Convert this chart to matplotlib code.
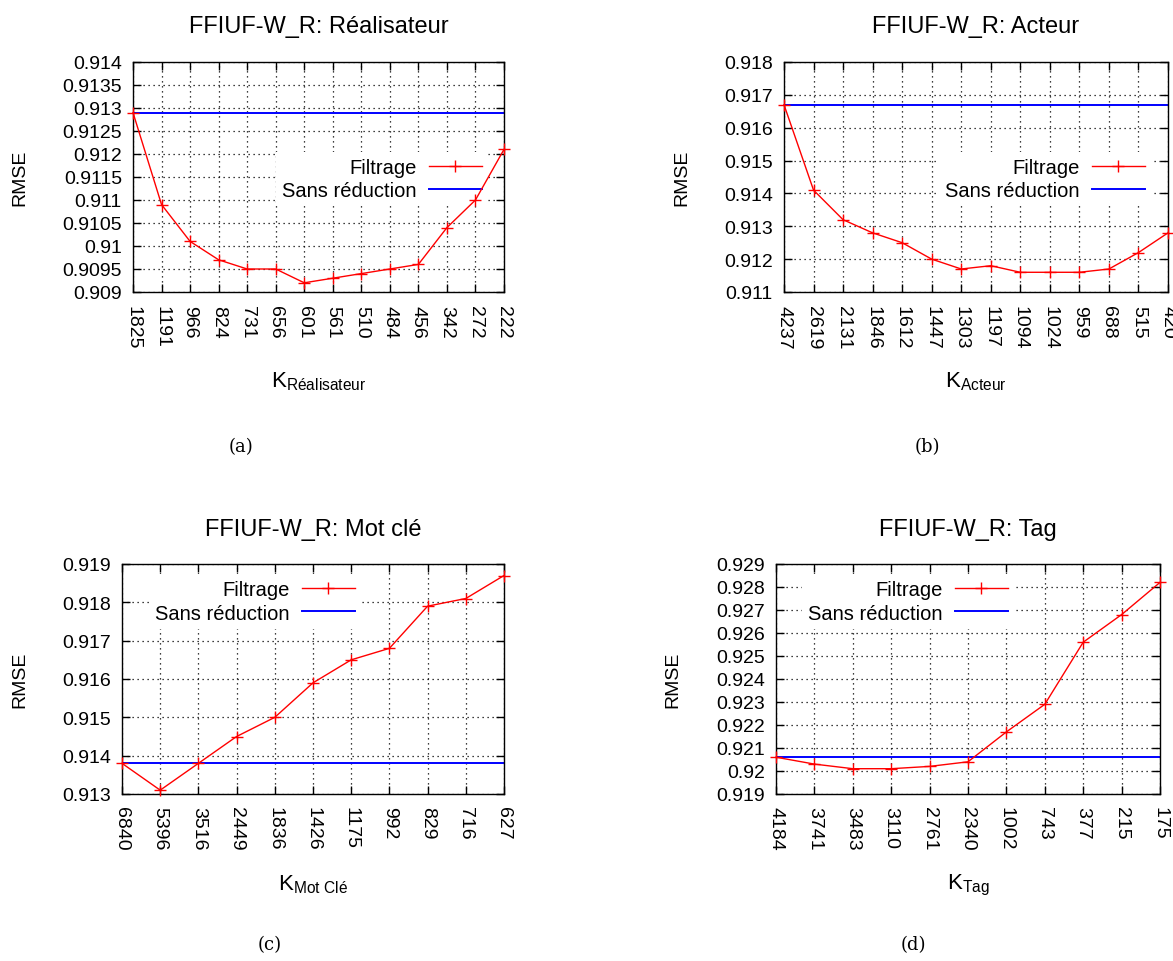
import matplotlib
matplotlib.use("Agg")
import matplotlib.pyplot as plt
from matplotlib.ticker import FuncFormatter, FixedLocator
import numpy as np

plt.rcParams['font.family'] = ['Liberation Sans', 'DejaVu Sans']
plt.rcParams['mathtext.fontset'] = 'custom'
plt.rcParams['mathtext.rm'] = 'Liberation Sans'
plt.rcParams['mathtext.it'] = 'Liberation Sans'

# ---------------- data ----------------
k_realisateur = ["1825", "1191", "966", "824", "731", "656", "601", "561", "510", "484", "456", "342", "272", "222"]
rmse_realisateur = [0.9129, 0.9109, 0.9101, 0.9097, 0.9095, 0.9095, 0.9092, 0.9093, 0.9094, 0.9095, 0.9096, 0.9104, 0.9110, 0.9121]
base_realisateur = 0.9129

k_acteur = ["4237", "2619", "2131", "1846", "1612", "1447", "1303", "1197", "1094", "1024", "959", "688", "515", "420"]
rmse_acteur = [0.9167, 0.9141, 0.9132, 0.9128, 0.9125, 0.9120, 0.9117, 0.9118, 0.9116, 0.9116, 0.9116, 0.9117, 0.9122, 0.9128]
base_acteur = 0.9167

k_motcle = ["6840", "5396", "3516", "2449", "1836", "1426", "1175", "992", "829", "716", "627"]
rmse_motcle = [0.9138, 0.9131, 0.9138, 0.9145, 0.9150, 0.9159, 0.9165, 0.9168, 0.9179, 0.9181, 0.9187]
base_motcle = 0.9138

k_tag = ["4184", "3741", "3483", "3110", "2761", "2340", "1002", "743", "377", "215", "175"]
rmse_tag = [0.9206, 0.9203, 0.9201, 0.9201, 0.9202, 0.9204, 0.9217, 0.9229, 0.9256, 0.9268, 0.9282]
base_tag = 0.9206

yticks_realisateur = [0.909, 0.9095, 0.910, 0.9105, 0.911, 0.9115, 0.912, 0.9125, 0.913, 0.9135, 0.914]
yticks_acteur = [0.911, 0.912, 0.913, 0.914, 0.915, 0.916, 0.917, 0.918]
yticks_motcle = [0.913, 0.914, 0.915, 0.916, 0.917, 0.918, 0.919]
yticks_tag = [0.919, 0.920, 0.921, 0.922, 0.923, 0.924, 0.925, 0.926, 0.927, 0.928, 0.929]

titles = ["FFIUF-W_R: Réalisateur", "FFIUF-W_R: Acteur", "FFIUF-W_R: Mot clé", "FFIUF-W_R: Tag"]
xlabels = [r"$\mathregular{K_{Réalisateur}}$", r"$\mathregular{K_{Acteur}}$",
           r"$\mathregular{K_{Mot\ Clé}}$", r"$\mathregular{K_{Tag}}$"]
captions = ["(a)", "(b)", "(c)", "(d)"]

# ---------------- layout ----------------
W, H = 1173, 962
fig = plt.figure(figsize=(W / 100, H / 100), dpi=100)

panels = [
    dict(rect=(133, 63, 504, 293), k=k_realisateur, y=rmse_realisateur, base=base_realisateur,
         yt=yticks_realisateur, leg=(0.957, 0.493), ylab=(-0.283, 0.5), xlab=-0.335,
         cap=(241, 447), ty=27),
    dict(rect=(784, 63, 1168, 293), k=k_acteur, y=rmse_acteur, base=base_acteur,
         yt=yticks_acteur, leg=(0.956, 0.493), ylab=(-0.245, 0.5), xlab=-0.335,
         cap=(927, 447), ty=27),
    dict(rect=(122, 565, 504, 795), k=k_motcle, y=rmse_motcle, base=base_motcle,
         yt=yticks_motcle, leg=(0.626, 0.837), ylab=(-0.246, 0.5), xlab=-0.34,
         cap=(270, 945), ty=530),
    dict(rect=(776, 565, 1160, 795), k=k_tag, y=rmse_tag, base=base_tag,
         yt=yticks_tag, leg=(0.62, 0.837), ylab=(-0.247, 0.5), xlab=-0.34,
         cap=(913, 945), ty=530),
]

fmt = FuncFormatter(lambda v, p: f"{round(v, 5):g}")

for i, p in enumerate(panels):
    x0, y0, x1, y1 = p["rect"]
    ax = fig.add_axes([x0 / W, 1 - y1 / H, (x1 - x0) / W, (y1 - y0) / H])
    n = len(p["k"])
    xs = np.arange(n)
    ax.plot(xs, p["y"], color="#ff0000", linewidth=1.0, marker="+", markersize=9,
            markeredgewidth=1.0, label="Filtrage", clip_on=False, zorder=3)
    ax.axhline(p["base"], color="#0000ff", linewidth=1.4, label="Sans réduction", zorder=2)

    ax.set_xlim(0, n - 1)
    ax.set_ylim(p["yt"][0], p["yt"][-1])
    ax.xaxis.set_major_locator(FixedLocator(xs))
    ax.set_xticklabels(p["k"], rotation=270)
    ax.yaxis.set_major_locator(FixedLocator(p["yt"]))
    ax.yaxis.set_major_formatter(fmt)

    ax.tick_params(axis="both", direction="in", top=True, right=True, length=6, width=1.0,
                   labelsize=14, color="black")
    ax.tick_params(axis="x", pad=9)
    ax.tick_params(axis="y", pad=8)
    for s in ax.spines.values():
        s.set_linewidth(1.0)
        s.set_color("black")

    ax.set_axisbelow(True)
    ax.grid(True, linestyle=(0, (1, 3)), color="black", linewidth=0.9)

    ax.set_ylabel("RMSE", fontsize=14)
    ax.yaxis.set_label_coords(*p["ylab"])
    ax.set_xlabel(xlabels[i], fontsize=16)
    ax.xaxis.set_label_coords(0.5, p["xlab"])

    ax.text(0.5, 1 + (y0 - p["ty"]) / (y1 - y0), titles[i], transform=ax.transAxes,
            ha="center", va="center", fontsize=17)

    leg = ax.legend(loc="center right", bbox_to_anchor=p["leg"], borderaxespad=0,
                    frameon=True, fancybox=False, edgecolor="none", facecolor="white",
                    framealpha=1.0, fontsize=14.5, markerfirst=False, handlelength=2.65,
                    handletextpad=0.6, labelspacing=0.2, borderpad=0.3, numpoints=1)
    leg.set_zorder(1.5)

    fig.text(p["cap"][0] / W, 1 - p["cap"][1] / H, captions[i], ha="center", va="center",
             fontsize=13, family="DejaVu Serif")

fig.savefig("out.png", dpi=100, facecolor="white")
